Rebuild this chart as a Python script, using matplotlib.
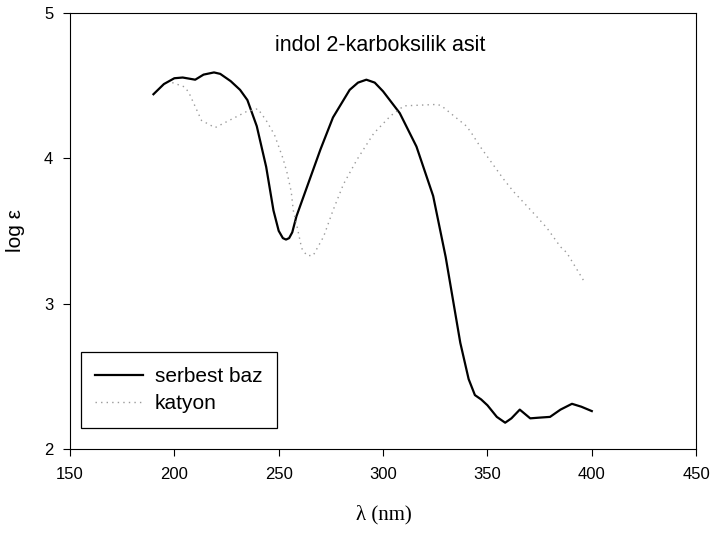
import matplotlib
matplotlib.use("Agg")
import matplotlib.pyplot as plt

plt.rcParams.update({
    "font.family": ["Liberation Sans", "DejaVu Sans"],
    "font.size": 12,
})

# serbest baz spectrum (wavelength in nm, log eps)
baz_nm = [190, 195, 200, 204, 208, 210, 214, 219, 222, 227, 231.5, 235, 239.5, 244, 247.5,
          250, 252, 253.5, 255, 256.5, 258.5, 263.5, 270, 276, 284, 288, 292, 296, 300, 308,
          316, 324, 330, 337, 341, 344, 347, 350, 354.5, 358.5, 361.5, 365.5, 370.5,
          375, 380, 385, 390.5, 395, 400]
baz_log = [4.44, 4.51, 4.55, 4.555, 4.545, 4.54, 4.575, 4.59, 4.58, 4.53, 4.47, 4.40, 4.22, 3.94, 3.64,
           3.50, 3.45, 3.44, 3.45, 3.49, 3.60, 3.80, 4.06, 4.28, 4.47, 4.52, 4.54, 4.52, 4.46, 4.31,
           4.08, 3.74, 3.32, 2.73, 2.48, 2.37, 2.34, 2.30, 2.22, 2.18, 2.21, 2.27, 2.21,
           2.215, 2.22, 2.27, 2.31, 2.29, 2.26]

# katyon spectrum
kat_nm = [199, 205, 207, 213, 219.5, 234.5, 240, 244, 248, 252, 254, 256, 257, 258.5,
          261, 263.5, 266.5, 271.5, 276, 281, 287.5, 295.5, 303.5, 310, 326, 328,
          340, 342.5, 346.5, 348.5, 357.5, 362.5, 373.5, 378.5, 385, 388, 396]
kat_log = [4.52, 4.49, 4.45, 4.26, 4.21, 4.32, 4.34, 4.26, 4.16, 4.00, 3.90, 3.77, 3.64, 3.55,
           3.38, 3.33, 3.33, 3.46, 3.64, 3.82, 3.99, 4.17, 4.29, 4.36, 4.37, 4.36,
           4.22, 4.17, 4.08, 4.04, 3.86, 3.77, 3.60, 3.52, 3.39, 3.35, 3.16]

x_ticks = [150, 200, 250, 300, 350, 400, 450]
y_ticks = [2, 3, 4, 5]

fig = plt.figure(figsize=(7.14, 5.35), dpi=100)
ax = fig.add_axes([0.098, 0.161, 0.877, 0.815])

ax.plot(baz_nm, baz_log, color="black", linewidth=1.6, label="serbest baz")
ax.plot(kat_nm, kat_log, color="#9a9a9a", linewidth=1.0, linestyle=(0, (1, 3)),
        label="katyon")

ax.set_xlim(150, 450)
ax.set_ylim(2, 5)
ax.set_xticks(x_ticks)
ax.set_yticks(y_ticks)
ax.tick_params(direction="out", length=5, width=0.8, top=False, right=False, labelsize=12)
ax.tick_params(axis="x", pad=8)
ax.tick_params(axis="y", pad=7)
for side in ax.spines.values():
    side.set_linewidth(0.8)

ax.set_xlabel("λ (nm)", family=["Liberation Serif", "DejaVu Serif"], fontsize=15)
ax.xaxis.set_label_coords(0.502, -0.128)
ax.set_ylabel("log ε", fontsize=15)
ax.yaxis.set_label_coords(-0.072, 0.5)

ax.text(0.495, 0.924, "indol 2-karboksilik asit", transform=ax.transAxes,
        ha="center", va="center", fontsize=15.5)

leg = ax.legend(loc="lower left", bbox_to_anchor=(0.017, 0.048), borderaxespad=0,
                fancybox=False, edgecolor="black", framealpha=1, fontsize=15,
                handlelength=2.3, handletextpad=0.55, borderpad=0.7, labelspacing=0.4)
leg.get_frame().set_linewidth(0.9)

fig.savefig("out.png", dpi=100)
